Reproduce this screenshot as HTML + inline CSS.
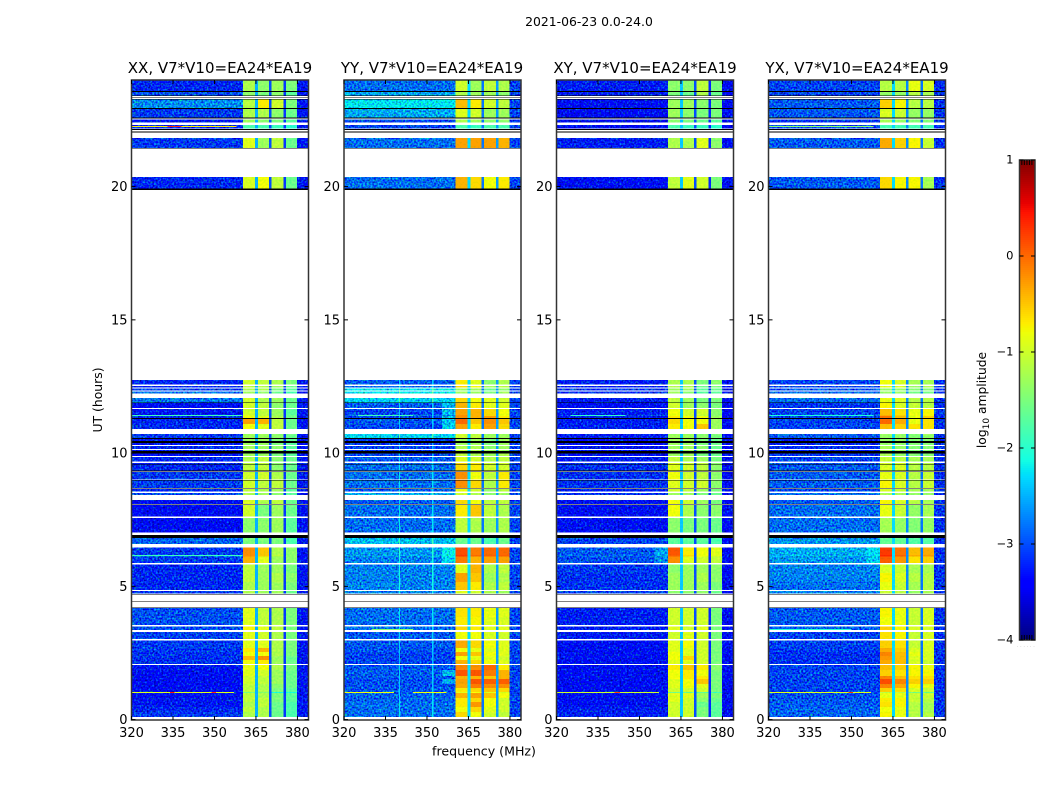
<!DOCTYPE html>
<html lang="en">
<head>
<meta charset="utf-8">
<title>2021-06-23 0.0-24.0</title>
<style>
html,body{margin:0;padding:0;background:#fff;}
svg{display:block;font-family:"DejaVu Sans","Liberation Sans",sans-serif;}
text{fill:#000;}
</style>
</head>
<body>
<svg id="chart" width="1050" height="800" viewBox="0 0 1050 800" xmlns="http://www.w3.org/2000/svg">
  <defs>
    <filter id="grain" filterUnits="userSpaceOnUse" x="120" y="70" width="840" height="660" color-interpolation-filters="sRGB">
      <feTurbulence type="fractalNoise" baseFrequency="0.55" numOctaves="1" seed="7" result="n"/>
      <feColorMatrix in="n" type="matrix" values="0 0 0 0 0.5  1 0 0 0 0  0 1 0 0 0  0 0 0 0 1" result="g"/>
      <feComposite in="SourceGraphic" in2="g" operator="arithmetic" k1="0" k2="1" k3="1.6" k4="-0.8" result="c"/>
      <feComposite in="c" in2="SourceAlpha" operator="in"/>
    </filter>
    <filter id="grain-light" filterUnits="userSpaceOnUse" x="120" y="70" width="840" height="660" color-interpolation-filters="sRGB">
      <feTurbulence type="fractalNoise" baseFrequency="0.5" numOctaves="1" seed="11" result="n"/>
      <feColorMatrix in="n" type="matrix" values="1 0 0 0 0  0 0 0 0 0.5  0 0 0 0 0.5  0 0 0 0 1" result="g"/>
      <feComposite in="SourceGraphic" in2="g" operator="arithmetic" k1="0" k2="1" k3="0.35" k4="-0.175" result="c"/>
      <feComposite in="c" in2="SourceAlpha" operator="in"/>
    </filter>
  </defs>
  <rect x="0" y="0" width="1050" height="800" fill="#fff"/>
  <text x="589" y="26" font-size="12.4" text-anchor="middle">2021-06-23 0.0-24.0</text>
  <text x="220" y="73" font-size="15" text-anchor="middle">XX, V7*V10=EA24*EA19</text>
  <text x="432" y="73" font-size="15" text-anchor="middle">YY, V7*V10=EA24*EA19</text>
  <text x="645" y="73" font-size="15" text-anchor="middle">XY, V7*V10=EA24*EA19</text>
  <text x="857" y="73" font-size="15" text-anchor="middle">YX, V7*V10=EA24*EA19</text>
  <text transform="translate(102,400) rotate(-90)" font-size="12.4" text-anchor="middle">UT (hours)</text>
  <text x="484" y="755.5" font-size="12.6" text-anchor="middle">frequency (MHz)</text>
  <text transform="translate(986,400) rotate(-90)" font-size="12.3" text-anchor="middle">log<tspan font-size="9" dy="3">10</tspan><tspan dy="-3"> amplitude</tspan></text>
  <text x="1017" y="647" font-size="4" letter-spacing="2" style="fill:#888">......</text>
  <g id="panels"></g>
  <g id="cbar"></g>
</svg>
<script>
// Row time extents in UT hours, top of the plot to the bottom
const rowHigh = [23.98,23.55,23.26,22.92,22.51,22.31,21.82,20.36,
  12.74,12.51,12.42,12.31,12.06,11.88,11.65,11.43,11.39,11.28,11.09,
  10.71,10.53,10.38,10.26,10.11,9.98,9.85,9.62,9.29,8.97,8.65,8.50,8.24,8.05,7.56,
  6.81,6.45,6.17,6.12,5.82,5.50,5.16,4.82,
  4.18,3.85,3.49,3.28,2.96,2.68,2.53,2.38,2.23,
  2.05,1.86,1.63,1.52,1.33,1.18,1.03,0.99,0.81,0.66,0.47,0.28];
const rowLow = [23.56,23.41,22.95,22.59,22.40,22.18,21.44,19.92,
  12.57,12.46,12.35,12.23,11.89,11.69,11.43,11.39,11.31,11.09,10.90,
  10.56,10.45,10.30,10.15,10.08,9.89,9.68,9.35,9.01,8.69,8.56,8.42,8.09,7.62,7.02,
  6.59,6.17,6.12,5.87,5.50,5.16,4.86,4.73,
  3.85,3.55,3.36,3.02,2.68,2.53,2.38,2.23,2.08,
  1.86,1.63,1.52,1.33,1.18,1.03,0.99,0.81,0.66,0.47,0.28,0.10];

// Channel band edges in MHz
const noiseEnd = 360.4;
const freqMin = 320;
const freqMax = 384;
const band1 = [360.4,364.6];
const notch1 = [364.6,365.7];
const band2 = [365.7,369.7];
const notch2 = [369.7,370.6];
const band3 = [370.6,374.9];
const notch3 = [374.9,375.8];
const band4 = [375.8,379.8];

// XX log10 amplitude per row
const xxNoise = [-3.1,-2.9,-2.6,-3.0,-3.2,-3.1,-3.0,-3.1,
  -3.1,-3.1,-3.0,-2.7,-2.7,-3.3,-3.2,-2.8,-3.1,-3.1,-3.1,
  -3.0,-3.2,-3.2,-3.1,-3.2,-3.3,-3.1,-3.1,-3.0,-3.0,-3.1,-2.9,-3.3,-3.3,-3.3,
  -2.8,-3.0,-2.6,-3.0,-3.1,-3.1,-3.1,-3.0,
  -2.9,-2.9,-2.9,-2.95,-3.0,-3.0,-3.05,-3.05,-3.05,
  -3.2,-3.25,-3.3,-3.3,-3.3,-3.3,-3.3,-3.25,-3.2,-3.2,-3.1,-3.0];
const xxBand1 = [-1.3,-1.5,-1.25,-1.3,-1.4,-1.9,-1.0,-1.05,
  -1.1,-1.2,-1.3,-1.4,-1.1,-1.1,-1.1,-1.0,-0.9,-0.4,-0.9,
  -1.4,-1.4,-1.4,-1.4,-1.4,-1.4,-1.3,-1.2,-1.1,-1.1,-1.2,-1.3,-1.05,-1.1,-1.5,
  -1.6,-0.3,-0.3,-0.5,-1.2,-1.2,-1.3,-1.3,
  -1.0,-1.0,-0.85,-1.0,-1.0,-0.8,-0.9,-0.55,-0.9,
  -0.95,-1.0,-1.1,-1.1,-1.2,-1.2,-1.6,-1.2,-1.2,-1.3,-1.2,-1.3];
const xxBand2 = [-1.5,-1.6,-0.8,-1.3,-1.5,-1.9,-1.4,-0.9,
  -1.2,-1.3,-1.3,-1.5,-1.3,-1.2,-1.2,-1.2,-1.0,-0.5,-1.0,
  -1.4,-1.4,-1.4,-1.4,-1.4,-1.4,-1.2,-1.2,-1.1,-1.2,-1.3,-1.4,-1.3,-1.6,-1.5,
  -1.6,-0.6,-0.6,-1.0,-1.4,-1.4,-1.4,-1.4,
  -1.2,-1.2,-1.0,-1.1,-1.0,-0.5,-0.9,-0.3,-0.8,
  -0.9,-1.1,-1.2,-1.2,-1.3,-1.3,-1.5,-1.3,-1.2,-1.2,-1.3,-1.3];
const xxBand3 = [-1.4,-1.5,-1.1,-1.5,-1.6,-2.0,-1.2,-1.2,
  -1.3,-1.4,-1.6,-1.7,-1.4,-1.5,-1.4,-1.4,-1.3,-1.2,-1.2,
  -1.5,-1.6,-1.6,-1.5,-1.5,-1.6,-1.5,-1.5,-1.3,-1.2,-1.4,-1.5,-1.2,-1.4,-1.4,
  -1.6,-1.3,-1.2,-1.4,-1.4,-1.3,-1.4,-1.4,
  -1.3,-1.3,-1.2,-1.3,-1.3,-1.3,-1.3,-1.4,-1.4,
  -1.3,-1.4,-1.4,-1.4,-1.5,-1.6,-2.2,-1.6,-1.6,-1.7,-1.7,-1.7];
const xxBand4 = [-1.6,-1.8,-1.6,-1.7,-1.8,-2.1,-1.7,-1.7,
  -1.6,-1.7,-1.8,-1.9,-1.7,-1.7,-1.8,-1.7,-1.7,-1.7,-1.7,
  -1.7,-1.8,-1.8,-1.8,-1.8,-1.8,-1.7,-1.7,-1.7,-1.7,-1.8,-1.8,-1.7,-1.7,-1.8,
  -1.9,-1.5,-1.5,-1.5,-1.6,-1.5,-1.6,-1.7,
  -1.6,-1.6,-1.6,-1.6,-1.6,-1.6,-1.6,-1.7,-1.7,
  -1.6,-1.7,-1.7,-1.7,-1.7,-1.8,-2.2,-1.8,-1.8,-1.9,-1.9,-1.9];

// YY log10 amplitude per row
const yyNoise = [-2.8,-2.5,-2.2,-2.5,-3.0,-3.0,-2.8,-2.8,
  -2.9,-2.8,-2.2,-2.2,-2.3,-2.9,-3.0,-2.8,-3.0,-2.9,-3.0,
  -2.3,-3.1,-3.1,-3.0,-3.1,-3.0,-2.9,-2.8,-2.8,-2.8,-2.9,-2.5,-2.9,-2.8,-2.8,
  -2.4,-2.6,-2.5,-2.7,-2.7,-2.7,-2.7,-2.7,
  -2.8,-2.8,-2.8,-2.9,-2.9,-2.95,-3.0,-3.0,-3.0,
  -2.9,-2.9,-2.9,-2.95,-2.95,-2.9,-2.9,-2.85,-2.85,-2.8,-2.8,-2.8];
const yyBand1 = [-1.0,-1.2,-0.45,-0.9,-1.2,-1.8,-0.3,-0.4,
  -0.7,-0.6,-1.3,-1.3,-0.6,-0.4,-0.3,-0.2,-0.2,0.0,-0.3,
  -1.0,-1.3,-1.3,-1.2,-1.1,-1.1,-0.9,-0.6,-0.2,-0.2,-0.8,-1.0,-0.6,-0.7,-1.1,
  -1.6,0.15,0.25,-0.1,-0.9,-0.3,-0.5,-0.9,
  -0.65,-0.7,-0.6,-0.8,-0.35,-0.8,-0.3,-0.8,-0.4,
  -0.15,0.1,-0.4,-0.3,-0.35,-0.7,-0.9,-0.4,-0.7,-0.7,-0.8,-0.6];
const yyBand2 = [-1.3,-1.3,-0.7,-1.0,-1.3,-1.9,-0.3,-0.6,
  -0.9,-0.8,-1.3,-1.3,-0.8,-0.7,-0.4,-0.4,-0.4,-0.5,-0.7,
  -1.1,-1.3,-1.3,-1.2,-1.2,-1.2,-1.0,-0.7,-0.8,-0.6,-1.0,-1.2,-0.8,-0.5,-1.2,
  -1.6,-0.1,0.0,-0.4,-0.4,-0.5,-0.7,-1.0,
  -0.7,-0.75,-0.7,-0.8,-0.6,-0.85,-0.5,-0.85,-0.6,
  -0.2,0.1,-0.4,0.1,-0.1,-0.6,-0.8,-0.3,-0.6,-0.25,-0.6,-0.8];
const yyBand3 = [-1.1,-1.3,-1.0,-1.3,-1.4,-1.8,-0.3,-0.8,
  -1.4,-1.3,-1.6,-1.5,-0.9,-0.9,-0.6,-0.6,-0.3,-0.2,-0.3,
  -1.3,-1.5,-1.5,-1.4,-1.3,-1.3,-1.2,-1.0,-1.1,-1.2,-1.4,-1.4,-1.1,-1.1,-1.3,
  -1.8,0.0,0.05,-0.3,-1.2,-1.3,-1.2,-1.2,
  -0.85,-0.9,-0.9,-0.95,-0.8,-0.9,-0.8,-0.9,-0.8,
  0.0,-0.1,-0.5,0.05,-0.2,-0.5,-0.9,-0.5,-0.8,-0.8,-0.9,-1.0];
const yyBand4 = [-1.2,-1.4,-1.1,-1.3,-1.4,-1.8,-0.4,-0.7,
  -1.2,-1.1,-1.4,-1.3,-1.0,-0.9,-0.8,-0.8,-0.7,-0.5,-0.6,
  -1.3,-1.3,-1.3,-1.3,-1.3,-1.2,-1.1,-1.0,-0.7,-0.7,-1.1,-1.3,-1.1,-1.2,-1.2,
  -1.6,0.0,0.05,-0.3,-1.1,-1.2,-1.1,-1.3,
  -0.9,-0.95,-0.9,-1.0,-0.9,-0.9,-0.9,-1.0,-0.9,
  -0.7,-0.4,-0.4,0.05,-0.2,-0.6,-0.9,-0.8,-1.0,-1.0,-1.0,-1.1];

// XY log10 amplitude per row
const xyNoise = [-3.2,-3.2,-3.3,-3.4,-3.5,-3.4,-3.2,-3.3,
  -3.2,-3.2,-3.1,-3.1,-3.2,-3.4,-3.2,-3.0,-3.2,-3.2,-3.2,
  -3.2,-3.4,-3.4,-3.3,-3.3,-3.3,-3.2,-3.1,-3.1,-3.1,-3.2,-3.1,-3.3,-3.3,-3.3,
  -3.0,-2.9,-2.8,-2.95,-3.05,-3.1,-3.1,-3.0,
  -3.2,-3.2,-3.2,-3.2,-3.3,-3.3,-3.3,-3.3,-3.3,
  -3.3,-3.3,-3.35,-3.35,-3.35,-3.35,-3.35,-3.3,-3.3,-3.3,-3.2,-3.2];
const xyBand1 = [-1.6,-1.7,-1.5,-1.5,-1.6,-2.0,-1.4,-1.3,
  -1.4,-1.4,-1.5,-1.5,-1.3,-1.2,-1.0,-1.0,-0.9,-0.8,-0.9,
  -1.5,-1.5,-1.5,-1.5,-1.5,-1.5,-1.3,-1.1,-1.0,-1.1,-1.2,-1.5,-1.0,-1.0,-1.6,
  -1.9,-0.1,-0.15,-0.4,-1.6,-1.5,-1.5,-1.6,
  -1.2,-1.2,-1.1,-1.2,-1.1,-1.1,-1.0,-1.0,-1.1,
  -0.9,-1.0,-1.0,-1.1,-1.1,-1.2,-1.8,-1.1,-1.1,-1.2,-1.2,-1.2];
const xyBand2 = [-1.6,-1.8,-1.5,-1.6,-1.7,-2.1,-1.4,-1.1,
  -1.4,-1.4,-1.5,-1.6,-1.5,-1.5,-1.2,-1.2,-1.0,-1.0,-1.0,
  -1.5,-1.5,-1.5,-1.5,-1.5,-1.5,-1.4,-1.2,-1.2,-1.2,-1.3,-1.5,-1.2,-1.4,-1.7,
  -1.9,-0.9,-0.8,-1.1,-1.5,-1.5,-1.5,-1.6,
  -1.2,-1.2,-1.2,-1.1,-1.0,-1.1,-1.1,-0.8,-1.1,
  -0.7,-0.9,-0.9,-1.0,-1.0,-1.2,-1.8,-1.1,-1.2,-1.2,-1.2,-1.2];
const xyBand3 = [-1.3,-1.4,-1.6,-1.7,-1.8,-2.1,-1.1,-1.2,
  -1.7,-1.8,-1.9,-1.9,-1.7,-1.6,-1.2,-1.3,-1.0,-1.0,-0.7,
  -1.6,-1.7,-1.7,-1.6,-1.6,-1.7,-1.5,-1.3,-1.3,-1.2,-1.5,-1.7,-1.5,-1.6,-1.7,
  -1.9,-1.0,-1.0,-1.2,-1.5,-1.4,-1.5,-1.6,
  -1.2,-1.2,-1.1,-1.2,-1.2,-1.2,-1.2,-1.2,-1.2,
  -0.9,-1.0,-0.9,-0.7,-1.1,-1.2,-1.9,-1.5,-1.6,-1.8,-1.7,-1.7];
const xyBand4 = [-1.7,-1.8,-1.7,-1.7,-1.9,-2.2,-1.6,-1.7,
  -1.6,-1.7,-1.8,-1.9,-1.7,-1.7,-1.6,-1.6,-1.5,-1.5,-1.5,
  -1.7,-1.8,-1.8,-1.8,-1.8,-1.8,-1.7,-1.6,-1.6,-1.6,-1.7,-1.8,-1.7,-1.6,-1.8,
  -2.0,-1.1,-1.1,-1.3,-1.6,-1.6,-1.7,-1.8,
  -1.7,-1.7,-1.7,-1.7,-1.7,-1.7,-1.7,-1.7,-1.7,
  -1.6,-1.7,-1.7,-1.7,-1.7,-1.7,-2.1,-1.7,-1.8,-1.9,-1.9,-1.9];

// YX log10 amplitude per row
const yxNoise = [-3.0,-3.0,-2.9,-2.9,-3.1,-3.0,-2.9,-2.9,
  -3.0,-3.0,-2.9,-2.8,-2.8,-3.1,-3.0,-2.8,-3.0,-3.0,-3.0,
  -2.9,-3.2,-3.2,-3.1,-3.2,-3.1,-3.0,-2.9,-2.9,-2.9,-3.0,-2.8,-2.9,-2.8,-2.8,
  -2.6,-2.5,-2.4,-2.6,-2.7,-2.7,-2.8,-2.7,
  -2.9,-2.9,-2.9,-3.0,-3.0,-3.05,-3.1,-3.1,-3.1,
  -3.0,-3.0,-3.0,-3.0,-3.0,-3.0,-3.0,-2.95,-2.9,-2.9,-2.85,-2.85];
const yxBand1 = [-1.2,-1.4,-0.6,-1.0,-1.3,-1.9,-0.4,-0.65,
  -0.85,-0.9,-1.4,-1.4,-0.9,-0.8,-0.5,-0.4,-0.1,-0.05,-0.5,
  -1.4,-1.4,-1.4,-1.3,-1.3,-1.3,-1.1,-1.0,-0.9,-0.8,-1.0,-1.3,-0.8,-0.9,-1.3,
  -1.7,0.2,0.3,0.0,-1.0,-0.8,-0.9,-1.1,
  -0.8,-0.85,-0.6,-0.7,-0.6,-0.4,-0.2,-0.3,-0.4,
  -0.5,-0.6,-0.2,0.1,-0.2,-0.6,-1.2,-0.9,-0.75,-0.7,-0.85,-0.8];
const yxBand2 = [-1.2,-1.4,-0.8,-1.1,-1.4,-1.9,-0.6,-0.8,
  -1.0,-1.0,-1.4,-1.4,-1.0,-1.0,-0.7,-0.6,-0.5,-0.4,-0.6,
  -1.4,-1.4,-1.4,-1.4,-1.4,-1.4,-1.2,-1.0,-1.0,-1.0,-1.1,-1.3,-1.0,-1.1,-1.4,
  -1.7,-0.1,0.0,-0.3,-1.1,-1.0,-1.1,-1.2,
  -0.9,-0.9,-0.8,-0.8,-0.7,-0.6,-0.5,-0.5,-0.5,
  -0.6,-0.7,-0.5,-0.2,-0.4,-0.7,-1.2,-0.9,-0.8,-0.8,-0.9,-0.9];
const yxBand3 = [-0.9,-1.2,-1.2,-1.4,-1.5,-1.9,-0.8,-0.8,
  -1.3,-1.4,-1.5,-1.6,-1.2,-1.1,-0.9,-0.9,-0.9,-0.9,-0.7,
  -1.5,-1.5,-1.5,-1.5,-1.5,-1.5,-1.3,-1.2,-1.2,-1.2,-1.3,-1.4,-1.2,-1.4,-1.5,
  -1.8,-0.5,-0.4,-0.7,-1.3,-1.2,-1.3,-1.4,
  -1.1,-1.1,-1.0,-1.1,-1.1,-1.0,-0.9,-1.0,-1.0,
  -0.8,-0.8,-0.7,-0.6,-0.8,-1.0,-1.6,-1.1,-1.1,-1.2,-1.2,-1.2];
const yxBand4 = [-1.0,-1.3,-1.2,-1.4,-1.5,-1.9,-1.1,-1.3,
  -1.3,-1.3,-1.5,-1.6,-1.2,-1.2,-0.8,-0.8,-0.6,-0.7,-0.7,
  -1.4,-1.5,-1.5,-1.5,-1.5,-1.5,-1.3,-1.2,-1.1,-1.1,-1.3,-1.4,-1.3,-1.3,-1.4,
  -1.8,-0.4,-0.3,-0.6,-1.3,-1.2,-1.2,-1.3,
  -1.0,-1.0,-1.0,-1.0,-1.0,-1.0,-1.0,-1.0,-1.1,
  -0.9,-0.8,-0.7,-0.6,-0.9,-1.1,-1.6,-1.1,-1.2,-1.3,-1.3,-1.2];

// Per-panel constant channels: three notches and the edge above the band
const xxNotches = [-2.5,-3.0,-3.1];
const yyNotches = [-2.3,-2.8,-2.6];
const xyNotches = [-2.4,-3.0,-3.2];
const yxNotches = [-2.3,-2.7,-2.8];
const edgeNoise = [-3.3,-3.05,-3.4,-3.15];

// Per-panel gain corrections, log10 units
const noiseGain = [-0.1,-0.05,-0.05,-0.05];
const bandGain = [0.1,0,0.2,0.05];

// Flagged (zero-amplitude) intervals in UT hours, drawn black
const flagHigh = [23.58,23.42,23.37,23.29,22.95,22.59,22.16,22.06,21.45,19.93,
  11.90,11.31,10.56,10.45,10.08,9.60,9.34,8.99,8.68,8.08,6.92,4.72,4.44,4.21];
const flagLow = [23.55,23.40,23.34,23.26,22.92,22.56,22.13,22.03,21.43,19.87,
  11.88,11.28,10.53,10.38,9.99,9.57,9.31,8.97,8.66,8.06,6.82,4.69,4.41,4.19];

// Interference lines: panel index, UT hour, start and end MHz, log10 amplitude
const rfiPanel = [0,3,0,1,2,3,0,0,2,3,1,3,1,1,0,0,2,0,3];
const rfiTime = [22.25,22.25,1.01,1.01,1.01,1.01,6.15,11.41,11.41,11.41,11.41,3.38,3.38,1.01,1.01,22.25,1.01,1.01,1.01];
const rfiStart = [320,320,320,320,320,320,320,320,325,320,325,320,330,345,334,333,341,349,349];
const rfiEnd = [358,358,357,338,357,357,360,360,345,358,345,350,345,357,335.5,338,343,350.5,350.5];
const rfiValue = [-0.7,-1.4,-0.9,-0.8,-1.0,-0.9,-1.9,-1.9,-2.0,-2.1,-1.9,-2.0,-1.4,-0.8,0.4,0.3,0.2,0.3,0.3];

// Shoulders below the first band: panel index, row index, log10 amplitude
const shoulderPanel = [1,1,1,1,1,1,1,1,2,2,2,3,3,3,1,1];
const shoulderRow = [35,36,37,16,17,18,13,14,35,36,37,35,36,37,52,54];
const shoulderValue = [-2.2,-2.2,-2.3,-2.4,-2.4,-2.4,-2.5,-2.5,-2.6,-2.6,-2.7,-2.3,-2.3,-2.4,-2.5,-2.6];
const shoulderStart = 355.5;

// Persistent narrow channels in YY (MHz) and the first row they appear in
const yySpikes = [339.8,351.9];
const yySpikeFirstRow = 8;
const yySpikeBoost = 0.55;

// Axis ticks
const timeTicks = [0,5,10,15,20];
const freqTicks = [320,335,350,365,380];
const cbarTicks = [1,0,-1,-2,-3,-4];
const cbarTickLabels = ['1','0','\u22121','\u22122','\u22123','\u22124'];
const cbarMinorFractions = [0.15,0.31,0.48,0.64,0.8];
const panelLefts = [131.5,344,556.5,768.5];
const panelNames = ['xx','yy','xy','yx'];

const panelSeries = [
  {noise:xxNoise,b1:xxBand1,b2:xxBand2,b3:xxBand3,b4:xxBand4,notch:xxNotches},
  {noise:yyNoise,b1:yyBand1,b2:yyBand2,b3:yyBand3,b4:yyBand4,notch:yyNotches},
  {noise:xyNoise,b1:xyBand1,b2:xyBand2,b3:xyBand3,b4:xyBand4,notch:xyNotches},
  {noise:yxNoise,b1:yxBand1,b2:yxBand2,b3:yxBand3,b4:yxBand4,notch:yxNotches}
];

const SVGNS = 'http://www.w3.org/2000/svg';
const plotW = 177;
const plotTop = 80;
const plotBottom = 720;
const yAt = t => 719.6 - t * 26.65;
function interp(t, pts){
  if (t <= pts[0][0]) return pts[0][1];
  for (let i = 1; i < pts.length; i++){
    if (t <= pts[i][0]){
      const a = pts[i-1], b = pts[i];
      return a[1] + (b[1]-a[1]) * (t-a[0]) / (b[0]-a[0]);
    }
  }
  return pts[pts.length-1][1];
}
const jetR = [[0.35,0],[0.66,1],[0.89,1],[1,0.5]];
const jetG = [[0.125,0],[0.375,1],[0.64,1],[0.91,0]];
const jetB = [[0,0.5],[0.11,1],[0.34,1],[0.65,0]];
function colorOf(v){
  const t = Math.max(0, Math.min(1, (v + 4) / 5));
  const c = p => Math.round(255 * interp(t, p));
  return 'rgb(' + c(jetR) + ',' + c(jetG) + ',' + c(jetB) + ')';
}
function makeRect(parent, x, y, w, h, fill){
  const el = document.createElementNS(SVGNS, 'rect');
  el.setAttribute('x', x.toFixed(2));
  el.setAttribute('y', y.toFixed(2));
  el.setAttribute('width', Math.max(w, 0).toFixed(2));
  el.setAttribute('height', Math.max(h, 0).toFixed(2));
  el.setAttribute('fill', fill);
  parent.appendChild(el);
  return el;
}
function makeLine(parent, x1, y1, x2, y2){
  const el = document.createElementNS(SVGNS, 'line');
  el.setAttribute('x1', x1);
  el.setAttribute('y1', y1);
  el.setAttribute('x2', x2);
  el.setAttribute('y2', y2);
  el.setAttribute('stroke', '#000');
  el.setAttribute('stroke-width', '1');
  parent.appendChild(el);
  return el;
}
function makeText(parent, x, y, str, size, anchor){
  const el = document.createElementNS(SVGNS, 'text');
  el.setAttribute('x', x);
  el.setAttribute('y', y);
  el.setAttribute('font-size', size);
  el.setAttribute('text-anchor', anchor);
  el.textContent = str;
  parent.appendChild(el);
  return el;
}

const panelsRoot = document.getElementById('panels');
panelLefts.forEach((left, p) => {
  const xAt = f => left + (f - freqMin) * plotW / (freqMax - freqMin);
  const s = panelSeries[p];
  const g = document.createElementNS(SVGNS, 'g');
  
  
  panelsRoot.appendChild(g);

  const heatNoise = document.createElementNS(SVGNS, 'g');
  
  
  heatNoise.setAttribute('shape-rendering', 'crispEdges');
  heatNoise.setAttribute('filter', 'url(#grain)');
  g.appendChild(heatNoise);

  const heatBands = document.createElementNS(SVGNS, 'g');
  
  
  heatBands.setAttribute('shape-rendering', 'crispEdges');
  heatBands.setAttribute('filter', 'url(#grain-light)');
  g.appendChild(heatBands);

  const heatLines = document.createElementNS(SVGNS, 'g');
  
  
  heatLines.setAttribute('shape-rendering', 'crispEdges');
  g.appendChild(heatLines);

  const cell = (target, f0, f1, hi, lo, v) => {
    const el = makeRect(target, xAt(f0), yAt(hi), xAt(f1) - xAt(f0), yAt(lo) - yAt(hi), colorOf(v));
    
    
    return el;
  };

  const nG = noiseGain[p];
  const bG = bandGain[p];
  rowHigh.forEach((hi, r) => {
    const lo = rowLow[r];
    cell(heatNoise, freqMin, noiseEnd, hi, lo, s.noise[r] + nG);
    cell(heatBands, band1[0], band1[1], hi, lo, s.b1[r] + bG);
    cell(heatBands, notch1[0], notch1[1], hi, lo, s.notch[0]);
    cell(heatBands, band2[0], band2[1], hi, lo, s.b2[r] + bG);
    cell(heatBands, notch2[0], notch2[1], hi, lo, s.notch[1]);
    cell(heatBands, band3[0], band3[1], hi, lo, s.b3[r] + bG);
    cell(heatBands, notch3[0], notch3[1], hi, lo, s.notch[2]);
    cell(heatBands, band4[0], band4[1], hi, lo, s.b4[r] + bG);
    cell(heatNoise, band4[1], freqMax, hi, lo, edgeNoise[p]);
    if (p === 1 && r >= yySpikeFirstRow){
      yySpikes.forEach(f => cell(heatLines, f, f + 0.4, hi, lo, s.noise[r] + yySpikeBoost));
    }
  });

  shoulderPanel.forEach((sp, i) => {
    if (sp !== p) return;
    const r = shoulderRow[i];
    cell(heatNoise, shoulderStart, noiseEnd, rowHigh[r], rowLow[r], shoulderValue[i]);
  });

  rfiPanel.forEach((rp, i) => {
    if (rp !== p) return;
    cell(heatLines, rfiStart[i], rfiEnd[i], rfiTime[i] + 0.02, rfiTime[i] - 0.02, rfiValue[i]);
  });

  flagHigh.forEach((hi, i) => {
    const el = makeRect(g, left, yAt(hi), plotW, yAt(flagLow[i]) - yAt(hi), '#000');
    
    
    el.setAttribute('shape-rendering', 'crispEdges');
  });

  const frame = document.createElementNS(SVGNS, 'rect');
  
  
  frame.setAttribute('x', left);
  frame.setAttribute('y', plotTop);
  frame.setAttribute('width', plotW);
  frame.setAttribute('height', plotBottom - plotTop);
  frame.setAttribute('fill', 'none');
  frame.setAttribute('stroke', '#333');
  frame.setAttribute('stroke-width', '1.5');
  g.appendChild(frame);

  timeTicks.forEach(t => {
    const y = yAt(t);
    const l = makeLine(g, left, y, left + 4, y);
    
    
    const m = makeLine(g, left + plotW - 4, y, left + plotW, y);
    
    
    const lab = makeText(g, left - 4, y + 4.6, String(t), 13, 'end');
    
    
  });
  freqTicks.forEach(f => {
    const x = xAt(f);
    const l = makeLine(g, x, plotBottom, x, plotBottom - 4);
    
    
    const m = makeLine(g, x, plotTop, x, plotTop + 4);
    
    
    const lab = makeText(g, x, 737, String(f), 13, 'middle');
    
    
  });
});

// Colorbar
const cbarRoot = document.getElementById('cbar');
const cbarLeft = 1019.5, cbarW = 15.5, cbarTop = 160, cbarBottom = 640;
const cbarY = v => cbarTop + (1 - v) * (cbarBottom - cbarTop) / 5;
for (let py = cbarTop; py < cbarBottom; py += 2){
  const v = 1 - (py + 1 - cbarTop) * 5 / (cbarBottom - cbarTop);
  const seg = makeRect(cbarRoot, cbarLeft, py, cbarW, 2, colorOf(v));
  
  
  seg.setAttribute('shape-rendering', 'crispEdges');
}
const cbarFrame = document.createElementNS(SVGNS, 'rect');


cbarFrame.setAttribute('x', cbarLeft);
cbarFrame.setAttribute('y', cbarTop);
cbarFrame.setAttribute('width', cbarW);
cbarFrame.setAttribute('height', cbarBottom - cbarTop);
cbarFrame.setAttribute('fill', 'none');
cbarFrame.setAttribute('stroke', '#333');
cbarFrame.setAttribute('stroke-width', '1.5');
cbarRoot.appendChild(cbarFrame);
cbarTicks.forEach((v, i) => {
  const y = cbarY(v);
  const a = makeLine(cbarRoot, cbarLeft, y, cbarLeft + 4, y);
  
  
  const b = makeLine(cbarRoot, cbarLeft + cbarW - 4, y, cbarLeft + cbarW, y);
  
  
  const lab = makeText(cbarRoot, 1013.5, y + 3.5, cbarTickLabels[i], 11.5, 'end');
  
  
});
cbarMinorFractions.forEach(fr => {
  const x = cbarLeft + fr * cbarW;
  const a = makeLine(cbarRoot, x, cbarTop, x, cbarTop + 5);
  
  
  const b = makeLine(cbarRoot, x, cbarBottom, x, cbarBottom - 5);
  
  
});
</script>
</body>
</html>
